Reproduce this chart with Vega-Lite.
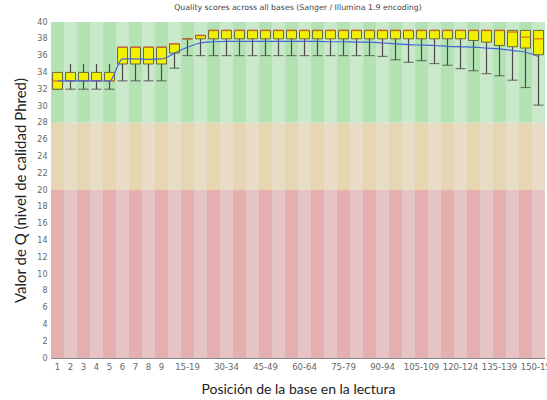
{
  "$schema": "https://vega.github.io/schema/vega-lite/v6.json",
  "autosize": {"type": "none"},
  "width": 494,
  "height": 336,
  "padding": {"left": 51, "right": 2, "top": 22, "bottom": 42},
  "background": "white",
  "config": {"view": {"stroke": null}, "axis": {"labelOverlap": false}},
  "title": {
    "text": "Quality scores across all bases (Sanger / Illumina 1.9 encoding)",
    "font": "DejaVu Sans", "fontSize": 7.8, "fontWeight": "normal", "color": "#444444",
    "anchor": "middle", "offset": 6
  },
  "datasets": {
    "stats": [
      {"idx": 1, "pos": "1", "low": 32, "q1": 32, "med": 33, "q3": 34, "high": 34, "mean": 33.0},
      {"idx": 2, "pos": "2", "low": 32, "q1": 33, "med": 33, "q3": 34, "high": 35, "mean": 33.0},
      {"idx": 3, "pos": "3", "low": 32, "q1": 33, "med": 33, "q3": 34, "high": 35, "mean": 33.0},
      {"idx": 4, "pos": "4", "low": 32, "q1": 33, "med": 33, "q3": 34, "high": 35, "mean": 33.0},
      {"idx": 5, "pos": "5", "low": 32, "q1": 33, "med": 33, "q3": 34, "high": 35, "mean": 32.95},
      {"idx": 6, "pos": "6", "low": 33, "q1": 35, "med": 37, "q3": 37, "high": 37, "mean": 35.6},
      {"idx": 7, "pos": "7", "low": 33, "q1": 35, "med": 37, "q3": 37, "high": 37, "mean": 35.6},
      {"idx": 8, "pos": "8", "low": 33, "q1": 35, "med": 37, "q3": 37, "high": 37, "mean": 35.55},
      {"idx": 9, "pos": "9", "low": 33, "q1": 35, "med": 37, "q3": 37, "high": 37, "mean": 35.6},
      {"idx": 10, "pos": "10-14", "low": 34.5, "q1": 36.3, "med": 37.4, "q3": 37.4, "high": 37.4, "mean": 36.3},
      {"idx": 11, "pos": "15-19", "low": 36, "q1": 38, "med": 38, "q3": 38, "high": 38, "mean": 37.0},
      {"idx": 12, "pos": "20-24", "low": 36, "q1": 38, "med": 38.4, "q3": 38.4, "high": 38.4, "mean": 37.5},
      {"idx": 13, "pos": "25-29", "low": 36, "q1": 38, "med": 39, "q3": 39, "high": 39, "mean": 37.65},
      {"idx": 14, "pos": "30-34", "low": 36, "q1": 38, "med": 39, "q3": 39, "high": 39, "mean": 37.7},
      {"idx": 15, "pos": "35-39", "low": 36, "q1": 38, "med": 39, "q3": 39, "high": 39, "mean": 37.7},
      {"idx": 16, "pos": "40-44", "low": 36, "q1": 38, "med": 39, "q3": 39, "high": 39, "mean": 37.7},
      {"idx": 17, "pos": "45-49", "low": 36, "q1": 38, "med": 39, "q3": 39, "high": 39, "mean": 37.7},
      {"idx": 18, "pos": "50-54", "low": 36, "q1": 38, "med": 39, "q3": 39, "high": 39, "mean": 37.7},
      {"idx": 19, "pos": "55-59", "low": 36, "q1": 38, "med": 39, "q3": 39, "high": 39, "mean": 37.7},
      {"idx": 20, "pos": "60-64", "low": 36, "q1": 38, "med": 39, "q3": 39, "high": 39, "mean": 37.7},
      {"idx": 21, "pos": "65-69", "low": 36, "q1": 38, "med": 39, "q3": 39, "high": 39, "mean": 37.7},
      {"idx": 22, "pos": "70-74", "low": 36, "q1": 38, "med": 39, "q3": 39, "high": 39, "mean": 37.65},
      {"idx": 23, "pos": "75-79", "low": 36, "q1": 38, "med": 39, "q3": 39, "high": 39, "mean": 37.65},
      {"idx": 24, "pos": "80-84", "low": 36, "q1": 38, "med": 39, "q3": 39, "high": 39, "mean": 37.6},
      {"idx": 25, "pos": "85-89", "low": 36, "q1": 38, "med": 39, "q3": 39, "high": 39, "mean": 37.6},
      {"idx": 26, "pos": "90-94", "low": 35.9, "q1": 38, "med": 39, "q3": 39, "high": 39, "mean": 37.5},
      {"idx": 27, "pos": "95-99", "low": 35.5, "q1": 38, "med": 39, "q3": 39, "high": 39, "mean": 37.4},
      {"idx": 28, "pos": "100-104", "low": 35.2, "q1": 38, "med": 39, "q3": 39, "high": 39, "mean": 37.3},
      {"idx": 29, "pos": "105-109", "low": 35.4, "q1": 38, "med": 39, "q3": 39, "high": 39, "mean": 37.25},
      {"idx": 30, "pos": "110-114", "low": 35.05, "q1": 38, "med": 39, "q3": 39, "high": 39, "mean": 37.2},
      {"idx": 31, "pos": "115-119", "low": 34.85, "q1": 38, "med": 39, "q3": 39, "high": 39, "mean": 37.1},
      {"idx": 32, "pos": "120-124", "low": 34.45, "q1": 38, "med": 39, "q3": 39, "high": 39, "mean": 37.05},
      {"idx": 33, "pos": "125-129", "low": 34.2, "q1": 37.8, "med": 39, "q3": 39, "high": 39, "mean": 37.0},
      {"idx": 34, "pos": "130-134", "low": 33.85, "q1": 37.6, "med": 39, "q3": 39, "high": 39, "mean": 36.9},
      {"idx": 35, "pos": "135-139", "low": 33.6, "q1": 37.2, "med": 39, "q3": 39, "high": 39, "mean": 36.8},
      {"idx": 36, "pos": "140-144", "low": 33.07, "q1": 37.05, "med": 38.8, "q3": 39, "high": 39, "mean": 36.6},
      {"idx": 37, "pos": "145-149", "low": 32.2, "q1": 36.9, "med": 38.2, "q3": 39, "high": 39, "mean": 36.4},
      {"idx": 38, "pos": "150-151", "low": 30.1, "q1": 36.1, "med": 38.0, "q3": 39, "high": 39, "mean": 35.9}
    ]
  },
  "data": {"name": "stats"},
  "encoding": {
    "x": {
      "field": "pos", "type": "ordinal", "sort": null,
      "scale": {"paddingInner": 0, "paddingOuter": 0},
      "axis": {
        "values": ["1","2","3","4","5","6","7","8","9","15-19","30-34","45-49","60-64","75-79","90-94","105-109","120-124","135-139","150-151"],
        "labelAngle": 0, "labelFont": "DejaVu Sans", "labelFontSize": 8.5, "labelColor": "#666666",
        "labelOverlap": false,
        "ticks": false, "domainColor": "#888888", "labelPadding": 4,
        "title": "Posición de la base en la lectura", "titleFont": "Lato", "titleFontSize": 14,
        "titleFontWeight": "normal", "titleColor": "#222222", "titlePadding": 12
      }
    },
    "y": {
      "field": "low", "type": "quantitative", "scale": {"domain": [0, 40], "nice": false},
      "axis": {
        "values": [0,2,4,6,8,10,12,14,16,18,20,22,24,26,28,30,32,34,36,38,40],
        "labelFont": "DejaVu Sans", "labelFontSize": 8, "labelColor": "#666666",
        "labelOverlap": false,
        "ticks": false, "grid": false, "domainColor": "#888888", "labelPadding": 4,
        "title": "Valor de Q (nivel de calidad Phred)", "titleFont": "Lato", "titleFontSize": 15,
        "titleFontWeight": "normal", "titleColor": "#222222", "titlePadding": 8
      }
    }
  },
  "layer": [
    {
      "mark": {"type": "rect"},
      "encoding": {
        "y": {"datum": 28, "type": "quantitative"},
        "y2": {"datum": 40},
        "color": {"condition": {"test": "datum.idx % 2 == 1", "value": "#b3e3b3"}, "value": "#cae8ca"}
      }
    },
    {
      "mark": {"type": "rect"},
      "encoding": {
        "y": {"datum": 20, "type": "quantitative"},
        "y2": {"datum": 28},
        "color": {"condition": {"test": "datum.idx % 2 == 1", "value": "#e6d6b2"}, "value": "#e8dcc6"}
      }
    },
    {
      "mark": {"type": "rect"},
      "encoding": {
        "y": {"datum": 0, "type": "quantitative"},
        "y2": {"datum": 20},
        "color": {"condition": {"test": "datum.idx % 2 == 1", "value": "#e5afb0"}, "value": "#e6c3c4"}
      }
    },
    {
      "mark": {"type": "rule", "color": "#4a4a4a", "strokeWidth": 1.2},
      "encoding": {"y2": {"field": "high"}}
    },
    {
      "mark": {"type": "tick", "color": "#4a4a4a", "thickness": 1.2, "size": 10},
      "encoding": {}
    },
    {
      "mark": {"type": "bar", "size": 10, "fill": "#f0f000", "stroke": "#6b6b3a", "strokeWidth": 1},
      "encoding": {"y": {"field": "q1", "type": "quantitative"}, "y2": {"field": "q3"}}
    },
    {
      "mark": {"type": "tick", "color": "#e0602a", "thickness": 1.6, "size": 10},
      "encoding": {"y": {"field": "med", "type": "quantitative"}}
    },
    {
      "mark": {"type": "line", "color": "#4466d8", "strokeWidth": 1.2, "interpolate": "monotone"},
      "encoding": {"y": {"field": "mean", "type": "quantitative"}}
    }
  ]
}
